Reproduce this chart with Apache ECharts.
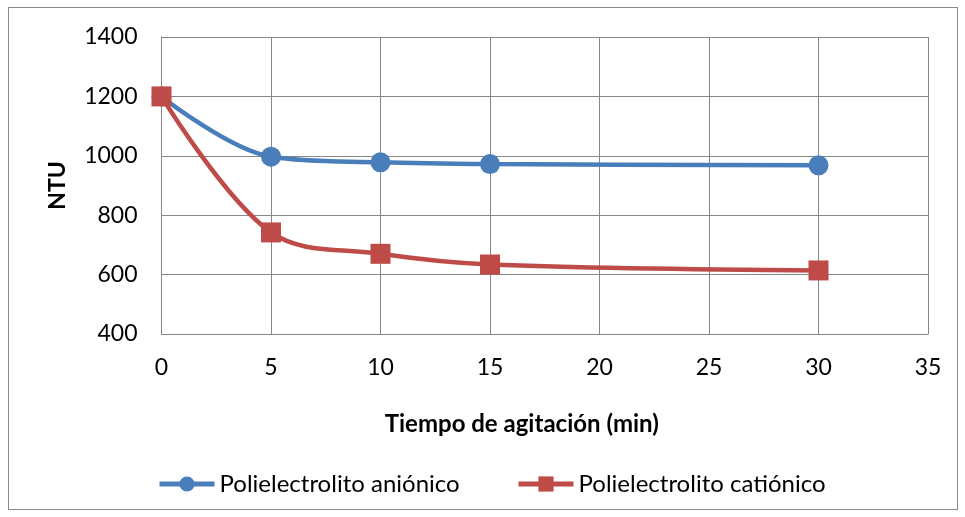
<!DOCTYPE html>
<html><head><meta charset="utf-8">
<script src="https://cdn.jsdelivr.net/npm/echarts@6/dist/echarts.min.js"></script>
<style>html,body{margin:0;padding:0;background:#fff}#c{width:965px;height:517px}
#frame{position:absolute;left:8px;top:7px;width:950px;height:503px;border:1px solid #8a8a8a;box-sizing:border-box;pointer-events:none}</style>
</head><body><div id="c"></div><div id="frame"></div>
<script>
const xTimes = [0, 5, 10, 15, 30];
const anionico = [1200, 997, 978, 972, 968];
const cationico = [1200, 742, 670, 634, 614];
const seriesNames = ['Polielectrolito aniónico', 'Polielectrolito catiónico'];
const xTitle = 'Tiempo de agitación (min)';
const yTitle = 'NTU';

const font = 'Lato, "Open Sans", sans-serif';
const blue = '#4A7EBB', red = '#BE4B48';
const legendBase = {
  top: 472, padding: 0, itemWidth: 55, itemHeight: 19, itemGap: 4,
  textStyle: {fontFamily: font, fontSize: 24, color: '#000'},
  lineStyle: {width: 5}
};
const chart = echarts.init(document.getElementById('c'));
chart.setOption({
  animation: false,
  grid: {left: 161.5, top: 37, right: 37, bottom: 183},
  legend: [
    Object.assign({}, legendBase, {left: 157, data: [seriesNames[0]]}),
    Object.assign({}, legendBase, {left: 516, data: [seriesNames[1]]})
  ],
  xAxis: {
    type: 'value', min: 0, max: 35, interval: 5,
    name: xTitle, nameLocation: 'middle', nameGap: 78,
    nameTextStyle: {fontFamily: font, fontSize: 24, fontWeight: 'bold', color: '#000', padding: [0, 46, 0, 0]},
    axisLine: {lineStyle: {color: '#868686', width: 1}},
    axisTick: {show: false},
    axisLabel: {fontFamily: font, fontSize: 23, color: '#000', margin: 22},
    splitLine: {show: true, lineStyle: {color: '#868686', width: 1}}
  },
  yAxis: {
    type: 'value', min: 400, max: 1400, interval: 200,
    name: yTitle, nameLocation: 'middle', nameGap: 92,
    nameTextStyle: {fontFamily: font, fontSize: 23, fontWeight: 'bold', color: '#000'},
    axisLine: {show: true, lineStyle: {color: '#868686', width: 1}},
    axisTick: {show: false},
    axisLabel: {fontFamily: font, fontSize: 23, color: '#000', margin: 24, formatter: v => String(v)},
    splitLine: {show: true, lineStyle: {color: '#868686', width: 1}}
  },
  series: [
    {name: seriesNames[0], type: 'line', smooth: 0.35,
     data: xTimes.map((x, i) => [x, anionico[i]]),
     symbol: 'circle', symbolSize: 20,
     lineStyle: {color: blue, width: 4.5},
     itemStyle: {color: blue}},
    {name: seriesNames[1], type: 'line', smooth: 0.35,
     data: xTimes.map((x, i) => [x, cationico[i]]),
     symbol: 'rect', symbolSize: 20,
     lineStyle: {color: red, width: 4.5},
     itemStyle: {color: red}}
  ]
});
</script></body></html>
